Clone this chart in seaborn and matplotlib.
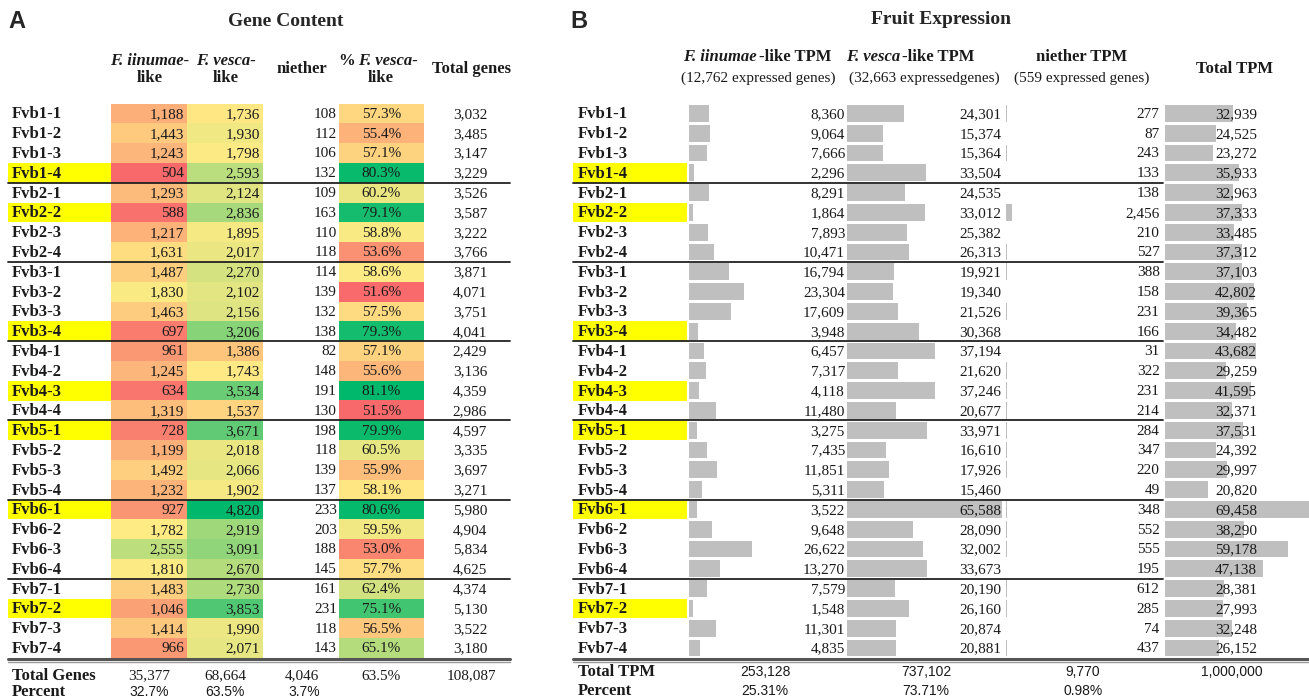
import numpy as np
import pandas as pd
import matplotlib
matplotlib.use("Agg")
import matplotlib.pyplot as plt
from matplotlib.colors import LinearSegmentedColormap, TwoSlopeNorm
from matplotlib.patches import Rectangle
from matplotlib.transforms import blended_transform_factory
import seaborn as sns

# ---- data ----
rows = ["Fvb1-1", "Fvb1-2", "Fvb1-3", "Fvb1-4", "Fvb2-1", "Fvb2-2", "Fvb2-3", "Fvb2-4",
        "Fvb3-1", "Fvb3-2", "Fvb3-3", "Fvb3-4", "Fvb4-1", "Fvb4-2", "Fvb4-3", "Fvb4-4",
        "Fvb5-1", "Fvb5-2", "Fvb5-3", "Fvb5-4", "Fvb6-1", "Fvb6-2", "Fvb6-3", "Fvb6-4",
        "Fvb7-1", "Fvb7-2", "Fvb7-3", "Fvb7-4"]
highlight = ["Fvb1-4", "Fvb2-2", "Fvb3-4", "Fvb4-3", "Fvb5-1", "Fvb6-1", "Fvb7-2"]

iinumae_genes = [1188, 1443, 1243, 504, 1293, 588, 1217, 1631, 1487, 1830, 1463, 697, 961, 1245,
                 634, 1319, 728, 1199, 1492, 1232, 927, 1782, 2555, 1810, 1483, 1046, 1414, 966]
vesca_genes = [1736, 1930, 1798, 2593, 2124, 2836, 1895, 2017, 2270, 2102, 2156, 3206, 1386, 1743,
               3534, 1537, 3671, 2018, 2066, 1902, 4820, 2919, 3091, 2670, 2730, 3853, 1990, 2071]
neither_genes = [108, 112, 106, 132, 109, 163, 110, 118, 114, 139, 132, 138, 82, 148,
                 191, 130, 198, 118, 139, 137, 233, 203, 188, 145, 161, 231, 118, 143]
pct_vesca = [57.3, 55.4, 57.1, 80.3, 60.2, 79.1, 58.8, 53.6, 58.6, 51.6, 57.5, 79.3, 57.1, 55.6,
             81.1, 51.5, 79.9, 60.5, 55.9, 58.1, 80.6, 59.5, 53.0, 57.7, 62.4, 75.1, 56.5, 65.1]
total_genes = [3032, 3485, 3147, 3229, 3526, 3587, 3222, 3766, 3871, 4071, 3751, 4041, 2429, 3136,
               4359, 2986, 4597, 3335, 3697, 3271, 5980, 4904, 5834, 4625, 4374, 5130, 3522, 3180]

iinumae_tpm = [8360, 9064, 7666, 2296, 8291, 1864, 7893, 10471, 16794, 23304, 17609, 3948, 6457, 7317,
               4118, 11480, 3275, 7435, 11851, 5311, 3522, 9648, 26622, 13270, 7579, 1548, 11301, 4835]
vesca_tpm = [24301, 15374, 15364, 33504, 24535, 33012, 25382, 26313, 19921, 19340, 21526, 30368, 37194, 21620,
             37246, 20677, 33971, 16610, 17926, 15460, 65588, 28090, 32002, 33673, 20190, 26160, 20874, 20881]
neither_tpm = [277, 87, 243, 133, 138, 2456, 210, 527, 388, 158, 231, 166, 31, 322,
               231, 214, 284, 347, 220, 49, 348, 552, 555, 195, 612, 285, 74, 437]
total_tpm = [32939, 24525, 23272, 35933, 32963, 37333, 33485, 37312, 37103, 42802, 39365, 34482, 43682, 29259,
             41595, 32371, 37531, 24392, 29997, 20820, 69458, 38290, 59178, 47138, 28381, 27993, 32248, 26152]

gene_totals = ["35,377", "68,664", "4,046", "63.5%", "108,087"]
gene_percent = ["32.7%", "63.5%", "3.7%"]
tpm_totals = ["253,128", "737,102", "9,770", "1,000,000"]
tpm_percent = ["25.31%", "73.71%", "0.98%"]

# ---- style ----
sns.set_theme(style="white")
plt.rcParams["font.family"] = ["Liberation Serif", "DejaVu Serif"]
SANS = ["Liberation Sans Narrow", "Liberation Sans"]
TXT = "#1a1a1a"
FS = 11
FB = 12

W, H = 1309, 700
ROW0, ROWH = 103.5, 19.8
NR = len(rows)

fig = plt.figure(figsize=(W / 100, H / 100), dpi=100)


def px_ax(x0, x1, y0=ROW0, y1=ROW0 + NR * ROWH):
    return fig.add_axes([x0 / W, 1 - y1 / H, (x1 - x0) / W, (y1 - y0) / H])


def row_text(ax, xfrac, vals, fmt, ha="right", **kw):
    tr = blended_transform_factory(ax.transAxes, ax.transData)
    for i, v in enumerate(vals):
        ax.text(xfrac, i + 0.05, fmt.format(v), ha=ha, va="center", fontsize=FS, color=TXT,
                transform=tr, zorder=5, **kw)


cmap = LinearSegmentedColormap.from_list("ryg", ["#F8696B", "#FFEB84", "#00B86B"])

# ---- panel A heatmaps ----
genes_df = pd.DataFrame({"iinumae": iinumae_genes, "vesca": vesca_genes}, index=rows)
allv = genes_df.values.ravel()
ax1 = px_ax(111, 263)
sns.heatmap(genes_df, ax=ax1, cmap=cmap, cbar=False, xticklabels=False, yticklabels=False,
            norm=TwoSlopeNorm(vmin=allv.min(), vcenter=np.median(allv), vmax=allv.max()))
for j, col in enumerate(genes_df.columns):
    for i, v in enumerate(genes_df[col]):
        ax1.text(j + 0.96, i + 0.55, f"{v:,}", ha="right", va="center", fontsize=FS, color=TXT)

pct_df = pd.DataFrame({"pct": pct_vesca}, index=rows)
ax2 = px_ax(339, 424)
sns.heatmap(pct_df, ax=ax2, cmap=cmap, cbar=False, xticklabels=False, yticklabels=False,
            norm=TwoSlopeNorm(vmin=min(pct_vesca), vcenter=np.median(pct_vesca), vmax=max(pct_vesca)))
for i, p in enumerate(pct_vesca):
    ax2.text(0.5, i + 0.55, f"{p:.1f}%", ha="center", va="center", fontsize=FS, color=TXT)

# neither + total genes columns
ax3 = px_ax(264, 337)
ax3.set_ylim(NR - 0.5, -0.5)
ax3.axis("off")
row_text(ax3, 1.0, neither_genes, "{:,}")
ax4 = px_ax(428, 512)
ax4.set_ylim(NR - 0.5, -0.5)
ax4.axis("off")
row_text(ax4, 0.5, total_genes, "{:,}", ha="center")

# ---- panel B data bars ----
bar_cols = [(iinumae_tpm, 689, 845, 66000, 1.0),
            (vesca_tpm, 847, 1003, 66000, 0.99),
            (neither_tpm, 1006, 1162, 66000, 0.985),
            (total_tpm, 1165, 1309, 69458, 0.64)]
for vals, x0, x1, xmax, tx in bar_cols:
    ax = px_ax(x0, x1)
    sns.barplot(x=vals, y=rows, order=rows, orient="h", ax=ax, color="#BFBFBF",
                saturation=1, width=0.85, linewidth=0)
    ax.set_xlim(0, xmax)
    ax.set_ylim(NR - 0.5, -0.5)
    ax.axis("off")
    row_text(ax, tx, vals, "{:,}")

# ---- overlay: labels, headers, lines ----
ov = fig.add_axes([0, 0, 1, 1])
ov.set_xlim(0, W)
ov.set_ylim(H, 0)
ov.axis("off")
ov.set_zorder(10)

ov.text(8, 21, "A", fontsize=17, fontweight="bold", family="Liberation Sans", va="center")
ov.text(570, 21, "B", fontsize=17, fontweight="bold", family="Liberation Sans", va="center")
ov.text(286, 22, "Gene Content", fontsize=14, fontweight="bold", ha="center", va="center")
ov.text(941, 20, "Fruit Expression", fontsize=14, fontweight="bold", ha="center", va="center")

hb = dict(fontsize=FB, fontweight="bold", va="center", color=TXT)
ov.text(150, 61, "F. iinumae-", ha="center", style="italic", **hb)
ov.text(150, 78, "like", ha="center", **hb)
ov.text(226, 61, "F. vesca-", ha="center", style="italic", **hb)
ov.text(226, 78, "like", ha="center", **hb)
ov.text(302, 69, "niether", ha="center", **hb)
ov.text(355, 61, "%", ha="right", **hb)
ov.text(358, 61, "F. vesca-", ha="left", style="italic", **hb)
ov.text(381, 78, "like", ha="center", **hb)
ov.text(471, 69, "Total genes", ha="center", **hb)

ov.text(757, 57, "F. iinumae", ha="right", style="italic", **hb)
ov.text(759, 57, "-like TPM", ha="left", **hb)
ov.text(758, 78, "(12,762 expressed genes)", ha="center", va="center", fontsize=FS, color=TXT)
ov.text(900, 57, "F. vesca", ha="right", style="italic", **hb)
ov.text(902, 57, "-like TPM", ha="left", **hb)
ov.text(924, 78, "(32,663 expressedgenes)", ha="center", va="center", fontsize=FS, color=TXT)
ov.text(1082, 57, "niether TPM", ha="center", **hb)
ov.text(1082, 78, "(559 expressed genes)", ha="center", va="center", fontsize=FS, color=TXT)
ov.text(1235, 69, "Total TPM", ha="center", **hb)

for i, r in enumerate(rows):
    y = ROW0 + (i + 0.5) * ROWH
    if r in highlight:
        ov.add_patch(Rectangle((8, ROW0 + i * ROWH), 103, ROWH, color="#FFFF00", lw=0))
        ov.add_patch(Rectangle((573, ROW0 + i * ROWH), 114, ROWH, color="#FFFF00", lw=0))
    ov.text(12, y + 1, r, fontsize=FB, fontweight="bold", va="center", color=TXT)
    ov.text(578, y + 1, r, fontsize=FB, fontweight="bold", va="center", color=TXT)

for k in range(4, NR, 4):
    y = ROW0 + k * ROWH
    ov.plot([8, 510], [y, y], color="#222222", lw=1.3)
    ov.plot([573, 1163], [y, y], color="#222222", lw=1.3)

yb = ROW0 + NR * ROWH + 1.5
for xa, xb in [(8, 510), (573, 1309)]:
    ov.plot([xa, xb], [yb, yb], color="#555555", lw=2.2)
    ov.plot([xa, xb], [yb + 2.2, yb + 2.2], color="#9a9a9a", lw=1.0)

ov.text(12, 676, "Total Genes", fontsize=FB, fontweight="bold", va="center", color=TXT)
ov.text(12, 692, "Percent", fontsize=FB, fontweight="bold", va="center", color=TXT)
for x, s in zip([149, 225, 302, 381, 471], gene_totals):
    ov.text(x, 676, s, ha="center", va="center", fontsize=FS, color=TXT)
for x, s in zip([149, 225, 304], gene_percent):
    ov.text(x, 692, s, ha="center", va="center", fontsize=FS - 1, color=TXT, family=SANS)

ov.text(578, 672, "Total TPM", fontsize=FB, fontweight="bold", va="center", color=TXT)
ov.text(578, 691, "Percent", fontsize=FB, fontweight="bold", va="center", color=TXT)
for x, s in zip([765, 926, 1083, 1232], tpm_totals):
    ov.text(x, 672, s, ha="center", va="center", fontsize=FS - 1, color=TXT, family=SANS)
for x, s in zip([765, 926, 1083], tpm_percent):
    ov.text(x, 691, s, ha="center", va="center", fontsize=FS - 1, color=TXT, family=SANS)

fig.savefig("out.png", dpi=100, facecolor="white")
